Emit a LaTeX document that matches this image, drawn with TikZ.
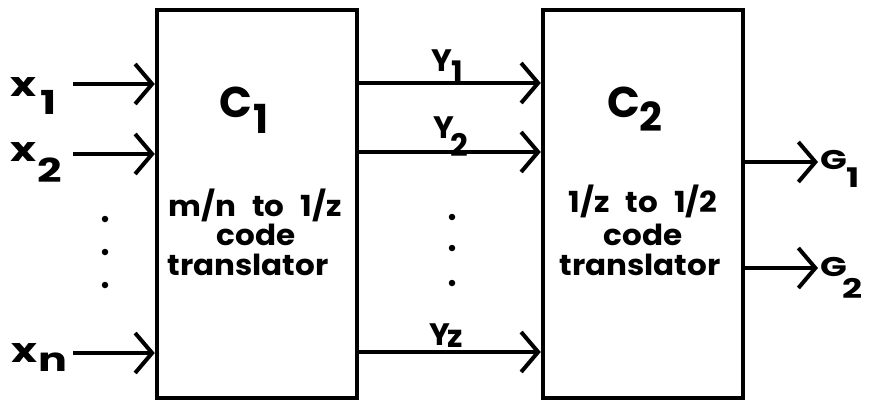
\documentclass[tikz,border=0pt]{standalone}
\usepackage{fontspec}
\setmainfont{Poppins}
\newfontfamily\lf{Poppins}[FakeStretch=1.3]
\newfontfamily\bdf{Poppins}[FakeStretch=1.07]
\usetikzlibrary{arrows.meta}
\begin{document}
\begin{tikzpicture}[x=1pt,y=-1pt,
  blk/.style={draw,line width=4.5pt,minimum width=200pt,minimum height=388pt,inner sep=0pt},
  sig/.style={line width=4pt,-{Straight Barb[length=17pt,width=40pt,line width=4pt]}},
  lab/.style={font=\lf\fontsize{34}{34}\selectfont\bfseries,inner sep=0pt,anchor=base west},
  sub/.style={font=\lf\fontsize{33}{33}\selectfont\bfseries,inner sep=0pt,anchor=base west},
  ylab/.style={font=\fontsize{31}{31}\selectfont\bfseries,inner sep=0pt,anchor=base west},
  glab/.style={font=\lf\fontsize{27}{27}\selectfont\bfseries,inner sep=0pt,anchor=base west},
  ttl/.style={font=\fontsize{43}{43}\selectfont\bfseries,inner sep=0pt,anchor=base west},
  tsub/.style={font=\fontsize{40}{40}\selectfont\bfseries,inner sep=0pt,anchor=base west},
  body/.style={font=\bdf\fontsize{29}{30}\selectfont\bfseries,inner sep=0pt,anchor=base},
  dotb/.style={circle,fill,inner sep=0pt,minimum size=6.5pt}]
\useasboundingbox (0,0) rectangle (874,404);
% boxes
\node[blk] (c1) at (257,204) {};
\node[blk] (c2) at (643,204) {};
% titles
\node[ttl] (t1) at (219,117) {C};
\node[tsub] (t1s) at (253,133) {1};
\node[ttl] (t2) at (607,117) {C};
\node[tsub] (t2s) at (639,131) {2};
\node[body] (b1a) at (255,216) {m/n\hspace{16pt}to\hspace{16pt}1/z};
\node[body] (b1b) at (256,245) {code};
\node[body] (b1c) at (248,275) {translator};
\node[body] (b2a) at (643,212) {1/z\hspace{16pt}to\hspace{16pt}1/2};
\node[body] (b2b) at (643,245) {code};
\node[body] (b2c) at (640,275) {translator};
% inputs
\coordinate (i1) at (73,84);
\coordinate (i2) at (73,154);
\coordinate (in) at (73,353);
\draw[sig] (i1) -- (c1.west |- i1);
\draw[sig] (i2) -- (c1.west |- i2);
\draw[sig] (in) -- (c1.west |- in);
\node[lab] (lx1) at (10,96) {x};
\node[sub] (lx1s) at (40,114) {1};
\node[lab] (lx2) at (10,161) {x};
\node[sub] (lx2s) at (37,182) {2};
\node[lab] (lxn) at (11,362) {x};
\node[sub] (lxns) at (38,371) {n};
\node[dotb] (d1) at (105,219) {};
\node[dotb] (d2) at (105,252) {};
\node[dotb] (d3) at (105,285) {};
% middle
\draw[sig] (c1.east |- 0,83) -- (c2.west |- 0,83);
\draw[sig] (c1.east |- 0,152) -- (c2.west |- 0,152);
\draw[sig] (c1.east |- 0,352) -- (c2.west |- 0,352);
\node[ylab] (ly1) at (431,71) {Y};
\node[ylab] (ly1s) at (451,83) {1};
\node[ylab] (ly2) at (433,138) {Y};
\node[ylab] (ly2s) at (450,156) {2};
\node[ylab] (lyz) at (429,345) {Y};
\node[ylab] (lyzs) at (447,347) {z};
\node[dotb] (e1) at (452,217) {};
\node[dotb] (e2) at (452,248) {};
\node[dotb] (e3) at (452,283) {};
% outputs
\coordinate (o1) at (818,162);
\coordinate (o2) at (818,268);
\draw[sig] (c2.east |- o1) -- (o1);
\draw[sig] (c2.east |- o2) -- (o2);
\node[glab] (lg1) at (820,169) {G};
\node[glab] (lg1s) at (846,187) {1};
\node[glab] (lg2) at (820,276) {G};
\node[glab] (lg2s) at (842,298) {2};
\end{tikzpicture}
\end{document}
